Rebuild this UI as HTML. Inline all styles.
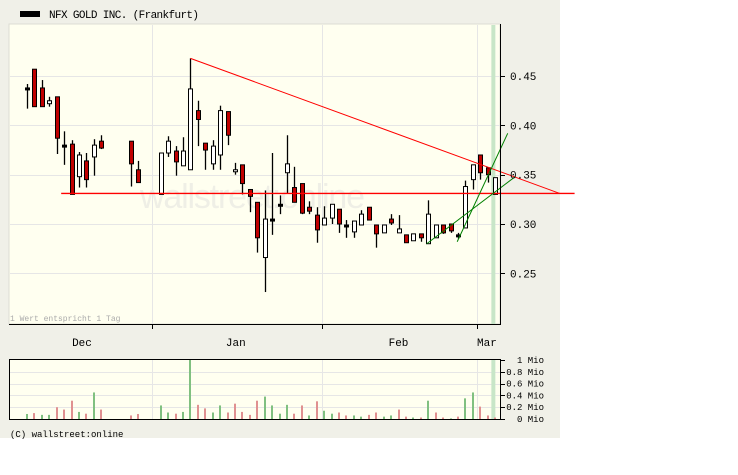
<!DOCTYPE html>
<html><head><meta charset="utf-8"><style>
body{margin:0;background:#fff;}
svg{display:block;font-family:"Liberation Mono","DejaVu Sans Mono",monospace;}
</style></head><body>
<svg id="chart" width="738" height="475" xmlns="http://www.w3.org/2000/svg">
<rect x="0" y="0" width="560" height="438" fill="#f0f0e8"/>
<rect x="9" y="24" width="491" height="300" fill="#fffff0" stroke="#dcdcd4"/>
<rect x="9" y="359" width="491" height="60" fill="#fffff0"/>
<g id="grid"></g>
<text x="140" y="208" font-family="Liberation Sans, sans-serif" font-size="34" fill="#efefe6" textLength="225">wallstreet:online</text>
<g id="marks"></g>
<line x1="9" y1="324.5" x2="500" y2="324.5" stroke="#000"/>
<line x1="500.5" y1="24" x2="500.5" y2="325" stroke="#000"/>
<rect x="9.5" y="359.5" width="491" height="60" fill="none" stroke="#000"/>
<rect x="20" y="11" width="20" height="6" fill="#000"/>
<text x="49" y="18" font-size="11" fill="#000" textLength="150">NFX GOLD INC. (Frankfurt)</text>
<text x="10" y="321" font-size="8" fill="#aaa">1 Wert entspricht 1 Tag</text>
<text x="10" y="437" font-size="9" fill="#000">(C) wallstreet:online</text>
<g id="axes"></g>
</svg>
<script>
const slots=[0,1,2,3,4,5,6,7,8,9,10,14,15,18,19,20,21,22,23,24,25,26,27,28,29,30,31,32,33,34,35,36,37,38,39,40,41,42,43,44,45,46,47,48,49,50,51,52,53,54,55,56,57,58,59,60,61,62,63];
const opens=[.438,.457,.438,.422,.429,.380,.381,.348,.364,.368,.384,.384,.355,.330,.372,.374,.359,.355,.415,.382,.361,.370,.414,.353,.360,.335,.322,.266,.305,.320,.352,.337,.341,.317,.309,.299,.306,.315,.299,.292,.299,.317,.299,.291,.305,.291,.289,.283,.290,.280,.286,.299,.300,.289,.296,.345,.370,.357,.330];
const closes=[.438,.419,.419,.425,.387,.380,.330,.370,.345,.380,.377,.361,.342,.372,.384,.363,.374,.437,.406,.375,.379,.415,.390,.355,.341,.328,.286,.305,.305,.320,.361,.322,.311,.313,.294,.306,.320,.300,.299,.303,.310,.304,.290,.299,.301,.295,.281,.290,.286,.310,.299,.291,.293,.289,.338,.360,.352,.350,.347];
const highs=[.442,.457,.446,.429,.429,.394,.385,.373,.372,.386,.390,.384,.364,.372,.389,.379,.388,.468,.425,.382,.385,.420,.414,.362,.360,.335,.322,.334,.372,.329,.390,.358,.341,.323,.317,.318,.320,.315,.304,.303,.314,.317,.299,.299,.310,.309,.289,.290,.290,.324,.299,.299,.300,.291,.344,.360,.370,.357,.347];
const lows=[.417,.419,.419,.419,.371,.360,.330,.337,.337,.349,.376,.338,.342,.330,.368,.349,.359,.355,.379,.355,.355,.355,.380,.350,.330,.312,.271,.231,.289,.310,.331,.322,.310,.310,.281,.299,.300,.291,.286,.286,.299,.304,.276,.291,.299,.291,.281,.283,.282,.280,.286,.290,.291,.285,.296,.335,.345,.342,.330];
const volumes=[.085,.10,.07,.07,.20,.16,.31,.12,.09,.45,.16,.06,.085,.23,.11,.09,.12,1.0,.24,.18,.11,.23,.11,.26,.12,.07,.31,.38,.23,.09,.24,.09,.23,.06,.30,.14,.09,.11,.06,.06,.04,.07,.11,.04,.06,.16,.04,.025,.025,.31,.11,.025,.01,.04,.35,.45,.21,.06,.025];
const volUp=[1,0,1,1,0,0,0,1,0,1,0,0,0,1,1,0,1,1,0,0,1,1,0,0,0,0,0,1,1,1,1,0,0,1,0,1,1,0,0,1,1,0,0,1,1,0,0,1,0,1,0,0,1,0,1,1,0,0,0];
const priceTicks=[0.25,0.30,0.35,0.40,0.45];
const volTicks=[0,0.2,0.4,0.6,0.8,1];
const volTickLabels=["0 Mio","0.2 Mio","0.4 Mio","0.6 Mio","0.8 Mio","1 Mio"];
const monthTickSlots=[16.8,39.7,60.6];
const monthLabels=["Dec","Jan","Feb","Mar"];
const monthLabelSlots=[7.4,28.1,50.0,61.9];
const highlightSlot=62.7;
const resistance=[[22,0.468],[71.7,0.331]];
const support=[[4.6,0.331],[73.7,0.331]];
const greenTrend1=[[53.8,0.280],[65.7,0.348]];
const greenTrend2=[[57.9,0.282],[64.7,0.392]];

const NS="http://www.w3.org/2000/svg";
const X=s=>27+s*7.43;
const Y=v=>224-(v-0.30)*986;
const VY=v=>419-v*59;
function mk(parent,tag,attrs){const e=document.createElementNS(NS,tag);for(const k in attrs)e.setAttribute(k,attrs[k]);parent.appendChild(e);return e;}
const grid=document.getElementById('grid'),marks=document.getElementById('marks'),axes=document.getElementById('axes');

priceTicks.forEach(t=>{
  const l=mk(grid,'line',{x1:10,x2:500,y1:Math.round(Y(t))+0.5,y2:Math.round(Y(t))+0.5,stroke:'#e6e6e6'});
  
  
  const tk=mk(axes,'line',{x1:500,x2:505,y1:Math.round(Y(t))+0.5,y2:Math.round(Y(t))+0.5,stroke:'#000'});
  
  
  const tx=mk(axes,'text',{x:510,y:Y(t)+4,'font-size':11,fill:'#000'});tx.textContent=t.toFixed(2);
  
  
});
volTicks.forEach((t,i)=>{
  if(t>0&&t<1){const l=mk(grid,'line',{x1:10,x2:500,y1:Math.round(VY(t))+0.5,y2:Math.round(VY(t))+0.5,stroke:'#e6e6e6'});
  
  }
  const tk=mk(axes,'line',{x1:500,x2:505,y1:Math.round(VY(t))+0.5,y2:Math.round(VY(t))+0.5,stroke:'#000'});
  
  
  const tx=mk(axes,'text',{x:544,y:VY(t)+3,'font-size':9,fill:'#000','text-anchor':'end'});tx.textContent=volTickLabels[i];
  
  
});
monthTickSlots.forEach(s=>{
  const x=Math.round(X(s))+0.5;
  const g1=mk(grid,'line',{x1:x,x2:x,y1:25,y2:324,stroke:'#e6e6e6'});
  
  
  const g2=mk(grid,'line',{x1:x,x2:x,y1:360,y2:419,stroke:'#e6e6e6'});
  
  
  const tk=mk(axes,'line',{x1:x,x2:x,y1:324,y2:329,stroke:'#000'});
  
  
});
monthLabels.forEach((m,i)=>{
  const tx=mk(axes,'text',{x:X(monthLabelSlots[i]),y:346,'font-size':11,fill:'#000','text-anchor':'middle'});tx.textContent=m;
  
  
});
const hx=X(highlightSlot);
const h1=mk(grid,'rect',{x:hx-1.5,y:25,width:4,height:299,fill:'#c8e6c8'});


const h2=mk(grid,'rect',{x:hx-1.5,y:360,width:4,height:59,fill:'#c8e6c8'});



volumes.forEach((v,i)=>{
  const x=Math.round(X(slots[i]))-1;
  const b=mk(marks,'rect',{x:x,y:VY(v),width:2,height:v*59,fill:volUp[i]?'#80c080':'#e09090'});
  
  
});
function trend(p,color,name,w){
  const l=mk(marks,'line',{x1:X(p[0][0]),y1:Y(p[0][1]),x2:X(p[1][0]),y2:Y(p[1][1]),stroke:color,'stroke-width':w});
  
  
}
slots.forEach((s,i)=>{
  const x=Math.round(X(s))+0.5;
  const w=mk(marks,'line',{x1:x,x2:x,y1:Y(highs[i]),y2:Y(lows[i]),stroke:'#000','stroke-width':1.3});
  
  
  const o=opens[i],c=closes[i];
  const top=Y(Math.max(o,c)),bot=Y(Math.min(o,c));
  const h=Math.max(bot-top,2);
  const fill=c<o?'#c00000':(c>o?'#ffffff':'#000');
  const b=mk(marks,'rect',{x:x-2,y:top,width:4,height:h,fill:fill,stroke:'#000','stroke-width':1});
  
  
});
trend(resistance,'#ff0000','resistance-trendline',1);
trend(support,'#ff0000','support-line',1.4);
trend(greenTrend1,'#008000','uptrend-line-1',1);
trend(greenTrend2,'#008000','uptrend-line-2',1);
</script>
</body></html>
